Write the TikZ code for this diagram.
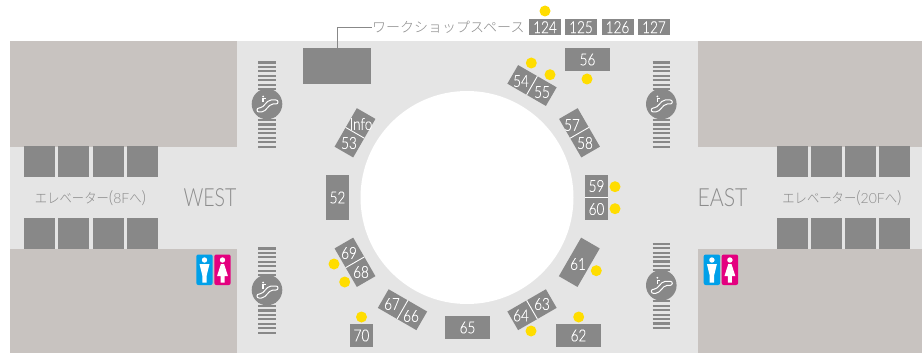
\documentclass[tikz,border=0pt]{standalone}
\usepackage{fontspec}
\setmainfont{Lato Light}
\newfontfamily\jpfont{Noto Sans CJK JP Light}
\newfontfamily\jpnarrow[FakeStretch=0.88]{Noto Sans CJK JP Light}
\newfontfamily\numfont[FakeStretch=0.82,FakeBold=0.25]{Lato Light}
\newfontfamily\wingfont[FakeStretch=0.78]{Lato Light}
\newfontfamily\eastfont[FakeStretch=0.85]{Lato Light}
\definecolor{floorgray}{HTML}{E5E5E5}
\definecolor{wallgray}{HTML}{C8C3C0}
\definecolor{shopgray}{HTML}{888888}
\definecolor{textgray}{HTML}{8C8C8C}
\definecolor{pindot}{HTML}{FFDD00}
\definecolor{menblue}{HTML}{00A0E9}
\definecolor{womenpink}{HTML}{E4007F}
\tikzset{
  shop/.style={fill=shopgray,inner sep=0pt,outer sep=0pt,text=white,font=\numfont\fontsize{16.5}{16.5}\selectfont},
  num/.style={inner sep=0pt,text=white,font=\numfont\fontsize{16.5}{16.5}\selectfont},
  split/.style={draw=white,line width=0.9pt},
  pin/.style={circle,fill=pindot,inner sep=0pt,minimum size=11pt},
  lift/.style={fill=shopgray,inner sep=0pt,minimum size=31pt},
  wing/.style={inner sep=0pt,text=textgray,font=\wingfont\fontsize{25}{25}\selectfont},
  sign/.style={inner sep=0pt,text=textgray,font=\jpfont\fontsize{14}{14}\selectfont},
  liftsign/.style={inner sep=0pt,text=textgray,font=\jpnarrow\fontsize{14}{14}\selectfont},
  escalator/.pic={
    \foreach \i in {0,...,19} \draw[shopgray,line width=2.2pt] (-8.8,-41.5+\i*4.43) -- (8.8,-41.5+\i*4.43);
    \fill[shopgray] (0,0) circle (15.3);
    \draw[white,line width=1pt,rounded corners=2pt] (-10,4) -- (-5.5,4) -- (2,-4) -- (11,-4) -- (11,0) -- (4,0) -- (-3.5,8) -- (-10,8) -- cycle;
    \fill[white] (-4,-7.5) circle (1);
    \fill[white] (-4.7,-5.8) rectangle (-3.4,-1.5);
    \fill[white] (-3.4,-5.8) rectangle (-1,-4.9);
  },
  toilet/.pic={
    \fill[menblue,rounded corners=2pt] (0,0) rectangle (16.4,30.5);
    \fill[womenpink,rounded corners=2pt] (18,0) rectangle (34.4,30.5);
    \fill[white] (8.2,5.5) circle (2.7);
    \fill[white] (3.2,9.5) -- (13.2,9.5) -- (10.4,21) -- (10.4,28) -- (6,28) -- (6,21) -- cycle;
    \fill[white] (26.2,5.5) circle (2.7);
    \fill[white] (24.6,9.5) -- (27.8,9.5) -- (31.6,21.5) -- (28.2,21.5) -- (28.2,28) -- (24.2,28) -- (24.2,21.5) -- (20.8,21.5) -- cycle;
  }
}
\begin{document}
\begin{tikzpicture}[x=1pt,y=-1pt]
\useasboundingbox (0,0) rectangle (922,353);
% floor and walls
\fill[floorgray] (10,41) rectangle (922,353);
\fill[wallgray] (10,41) rectangle (237,147);
\fill[wallgray] (10,249) rectangle (237,353);
\fill[wallgray] (698,41) rectangle (922,147);
\fill[wallgray] (698,249) rectangle (922,353);
\fill[white] (467,197.5) circle (106.5);
% lifts
\foreach \x/\n in {39.5/a,73.5/b,108.5/c,142.5/d,792.5/e,826.5/f,860.5/g,894.5/h} {
  \node[lift] (lift\n1) at (\x,161.5) {};
  \node[lift] (lift\n2) at (\x,233.5) {};
}
% escalators
\pic at (267,104) {escalator};
\pic at (267,290) {escalator};
\pic at (661.3,104) {escalator};
\pic at (661.3,285.3) {escalator};
% toilets
\pic at (196.3,254.5) {toilet};
\pic at (703.7,254.5) {toilet};
% signs
\node[wing] (west) at (210,197.5) {WEST};
\node[wing,font=\eastfont\fontsize{25}{25}\selectfont] (east) at (722.5,197.5) {EAST};
\node[liftsign] (signw) at (90.5,198) {エレベーター{\rmfamily\fontsize{17}{17}\selectfont(}{\rmfamily 8F}へ{\rmfamily\fontsize{17}{17}\selectfont)}};
\node[liftsign] (signe) at (842,198) {エレベーター{\rmfamily\fontsize{17}{17}\selectfont(}{\rmfamily 20F}へ{\rmfamily\fontsize{17}{17}\selectfont)}};
\node[sign,anchor=west] (worksign) at (372,27) {ワークショップスペース};
% workshop
\node[shop,minimum width=68pt,minimum height=36pt] (workshop) at (337,66) {};
\draw[shopgray,line width=0.8pt] (workshop.north) |- (worksign.west);
% upper shops
\foreach \x/\n in {545/124,581/125,617.5/126,654/127}
  \node[shop,minimum width=32pt,minimum height=15.5pt] (s\n) at (\x,27.2) {\n};
\node[shop,minimum width=45pt,minimum height=23pt] (s56) at (587.5,59.5) {56};
\node[shop,minimum width=23pt,minimum height=45pt] (s52) at (337.5,197.5) {52};
\node[shop,minimum width=45pt,minimum height=23pt] (s65) at (467.5,327.5) {65};
\node[shop,minimum width=45pt,minimum height=23pt] (s62) at (578.5,335.5) {62};
\node[shop,minimum width=23pt,minimum height=23pt] (s70) at (361.5,335.5) {70};
\node[shop,minimum width=44.5pt,minimum height=21.5pt,rotate=60] (s61) at (579.3,262.3) {};
\node[num] (n61) at (578,264) {61};
% split shops
\node[shop,minimum width=23pt,minimum height=45pt] (s59) at (596.5,197.5) {};
\node[shop,minimum width=44.5pt,minimum height=21.5pt,rotate=-30] (s54) at (532,85.5) {};
\node[shop,minimum width=44.5pt,minimum height=21.5pt,rotate=-60] (s57) at (579.5,132.8) {};
\node[shop,minimum width=44.5pt,minimum height=21.5pt,rotate=60] (s53) at (355,132.8) {};
\node[shop,minimum width=44.5pt,minimum height=21.5pt,rotate=30] (s63) at (532,309.7) {};
\node[shop,minimum width=44.5pt,minimum height=21.5pt,rotate=-30] (s67) at (402.5,309.7) {};
\node[shop,minimum width=44.5pt,minimum height=21.5pt,rotate=-60] (s69) at (355,262.3) {};
\draw[split] (s59.west) -- (s59.east);
\foreach \s in {s54,s57,s53,s63,s67,s69} \draw[split] (\s.north) -- (\s.south);
\foreach \x/\y/\n in {521/81/54,542/92/55,572/125/57,585/143/58,349/143/53,596.5/186/59,596.5/209/60,349/253/69,361/272/68,392/304/67,411/316/66,521/315.5/64,542/304/63}
  \node[num] (n\n) at (\x,\y) {\n};
\node[num] (info) at (361,124) {Info};
% pins
\foreach \x/\y/\n in {545/11/a,531.3/63/b,550/74.7/c,587/79/d,615/186.7/e,615/208.7/f,596.3/270.7/g,578.7/317/h,531/331/i,361.5/317/j,334/264/k,344.7/282/l}
  \node[pin] (pin\n) at (\x,\y) {};
\end{tikzpicture}
\end{document}
